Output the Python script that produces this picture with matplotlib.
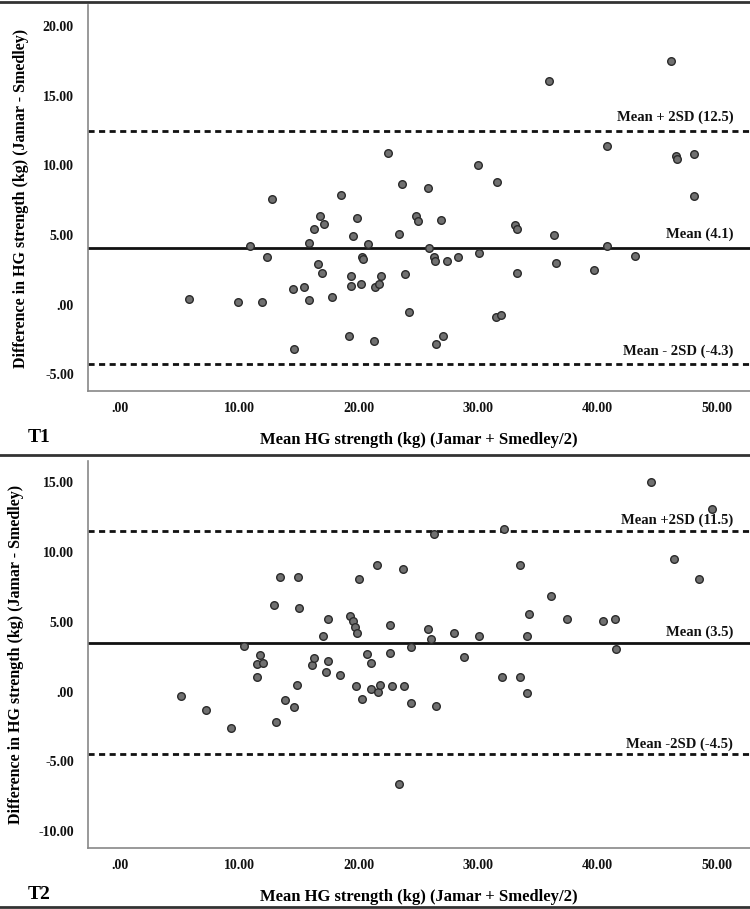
import matplotlib
matplotlib.use("Agg")
import matplotlib.pyplot as plt
from matplotlib.lines import Line2D

plt.rcParams['font.family'] = ['Liberation Serif', 'DejaVu Serif']
plt.rcParams['font.weight'] = 'bold'

# T1 data: mean HG strength vs difference (Jamar - Smedley)
t1_mean = [5.8, 9.9, 11.9, 10.9, 12.3, 12.7, 14.5, 14.6, 15.4, 15.8, 15.8, 16.3, 16.6, 16.8,
           16.9, 17.1, 17.8, 18.5, 19.2, 19.4, 19.4, 19.5, 19.9, 20.2, 20.3, 20.4, 20.8, 21.3,
           21.4, 21.7, 21.9, 22.5, 23.4, 23.6, 23.9, 24.2, 24.8, 25.0, 25.8, 25.9, 26.3, 26.4,
           26.5, 26.9, 27.1, 27.4, 28.3, 30.0, 30.1, 31.5, 31.9, 31.6, 33.1, 33.3, 33.3, 35.95,
           36.4, 36.5, 39.7, 40.8, 40.8, 43.2, 46.2, 46.6, 46.7, 48.1, 48.1]
t1_diff = [0.43, 0.19, 0.19, 4.2, 3.4, 7.6, 1.13, -3.17, 1.23, 0.31, 4.42, 5.41, 2.9, 6.4,
           2.3, 5.8, 0.53, 7.9, -2.28, 1.32, 2.09, 4.9, 6.2, 1.51, 3.41, 3.3, 4.33, -2.6,
           1.3, 1.49, 2.09, 10.9, 5.1, 8.7, 2.2, -0.5, 6.4, 6.0, 8.4, 4.09, 3.41, 3.1,
           -2.86, 6.1, -2.28, 3.1, 3.41, 10.0, 3.7, -0.9, -0.77, 8.8, 5.7, 5.4, 2.3, 16.1,
           5.0, 3.0, 2.5, 11.4, 4.2, 3.5, 17.5, 10.7, 10.5, 10.8, 7.8]
t1_lines = [12.5, 4.1, -4.3]
t1_labels = ["Mean + 2SD (12.5)", "Mean (4.1)", "Mean - 2SD (-4.3)"]
t1_yticks = [-5, 0, 5, 10, 15, 20]

# T2 data
t2_mean = [5.1, 7.2, 9.3, 10.4, 11.5, 11.5, 11.7, 12.0, 12.9, 13.1, 13.4, 13.8, 14.6, 14.8,
           14.9, 15.0, 16.1, 16.3, 17.0, 17.3, 17.4, 17.4, 18.4, 19.3, 19.5, 19.7, 19.8, 19.9,
           20.0, 20.3, 20.7, 21.0, 21.0, 21.5, 21.6, 21.8, 22.6, 22.6, 22.8, 23.4, 23.7, 23.8,
           24.4, 24.4, 25.8, 26.1, 26.3, 26.5, 28.0, 28.8, 30.1, 32.0, 32.2, 33.5, 33.5, 34.1,
           34.1, 34.3, 36.1, 37.5, 40.5, 41.5, 41.6, 44.5, 46.4, 48.5, 49.6]
t2_diff = [-0.33, -1.33, -2.6, 3.28, 1.07, 1.97, 2.6, 2.07, 6.2, -2.2, 8.2, -0.6, -1.1, 0.48,
           8.2, 5.96, 1.88, 2.38, 3.97, 1.38, 2.19, 5.18, 1.19, 5.37, 5.06, 4.58, 0.38, 4.18,
           8.05, -0.52, 2.68, 0.19, 2.07, 9.05, -0.02, 0.48, 2.78, 4.77, 0.38, -6.6, 8.76, 0.38,
           3.18, -0.83, 4.49, 3.78, 11.3, -1.02, 4.18, 2.49, 3.99, 1.07, 11.66, 9.05, 1.07, 3.99,
           -0.12, 5.56, 6.86, 5.18, 5.06, 5.18, 3.06, 15.0, 9.48, 8.08, 13.04]
t2_lines = [11.5, 3.5, -4.5]
t2_labels = ["Mean +2SD (11.5)", "Mean (3.5)", "Mean -2SD (-4.5)"]
t2_yticks = [-10, -5, 0, 5, 10, 15]

xticks = [0, 10, 20, 30, 40, 50]


def fmt(v):
    s = "%.2f" % v
    if s.startswith("0."):
        s = s[1:]
    return s


fig = plt.figure(figsize=(7.5, 9.09), dpi=100)
ax1 = fig.add_axes([0.117, 0.570, 0.883, 0.424])
ax2 = fig.add_axes([0.117, 0.067, 0.883, 0.426])


def panel(ax, xs, ys, lines, labels, yticks, ylim, tag, label_dy):
    ax.scatter(xs, ys, s=30, facecolor='#707070', edgecolor='#2a2a2a', linewidth=1.0, zorder=3)
    styles = ['--', '-', '--']
    for v, st, lab in zip(lines, styles, labels):
        if st == '-':
            ax.axhline(v, color='#111111', lw=2.0, zorder=2)
        else:
            ax.axhline(v, color='#111111', lw=2.0, ls=(0, (2.2, 1.6)), zorder=2)
        ax.text(51.4, v + label_dy, lab, ha='right', va='center', fontsize=10.5,
                fontweight='bold', color='#111111')
    ax.set_xlim(-2.7, 52.8)
    ax.set_ylim(*ylim)
    ax.set_xticks(xticks)
    ax.set_xticklabels([fmt(v) for v in xticks])
    ax.set_yticks(yticks)
    ax.set_yticklabels([fmt(v) for v in yticks])
    ax.tick_params(length=0, labelsize=10, pad=8, colors='#111111')
    ax.tick_params(axis='y', pad=10)
    for sp in ['top', 'right']:
        ax.spines[sp].set_visible(False)
    for sp in ['left', 'bottom']:
        ax.spines[sp].set_color('#888888')
        ax.spines[sp].set_linewidth(1.2)
    ax.set_xlabel("Mean HG strength (kg) (Jamar + Smedley/2)", fontsize=12,
                  fontweight='bold', labelpad=12)
    ax.set_ylabel("Difference in HG strength (kg) (Jamar - Smedley)", fontsize=11.5,
                  fontweight='bold', labelpad=10)
    ax.text(-0.09, -0.12, tag, transform=ax.transAxes, fontsize=14, fontweight='bold',
            ha='left', va='center')


panel(ax1, t1_mean, t1_diff, t1_lines, t1_labels, t1_yticks, (-6.2, 21.5), "T1", 0.95)
panel(ax2, t2_mean, t2_diff, t2_lines, t2_labels, t2_yticks, (-11.2, 16.5), "T2", 0.75)

# panel separator lines
for yy in [0.998, 0.499, 0.002]:
    fig.add_artist(Line2D([0, 1], [yy, yy], transform=fig.transFigure, color='#333333', lw=2))

fig.savefig("out.png", dpi=100)
